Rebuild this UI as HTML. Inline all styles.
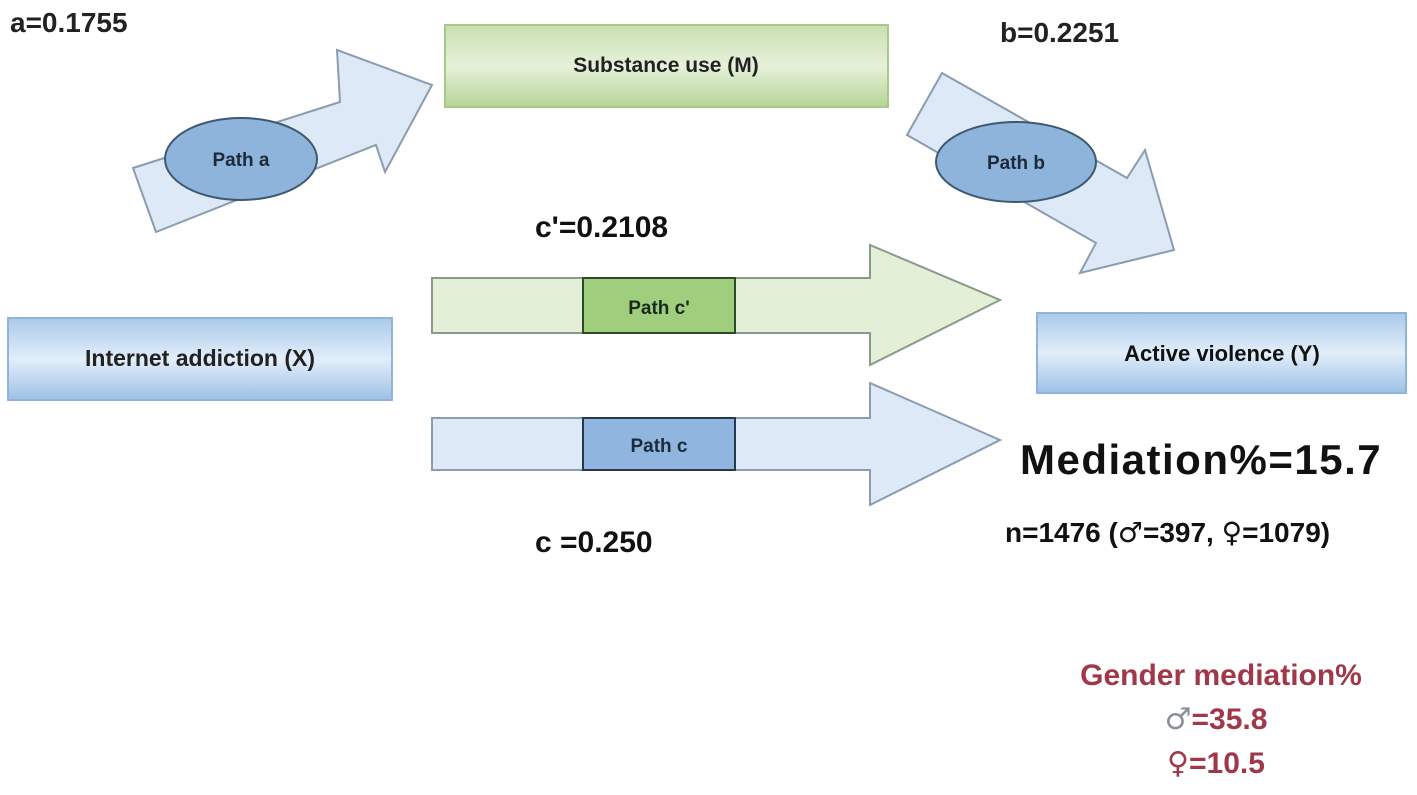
<!DOCTYPE html>
<html><head><meta charset="utf-8"><style>
html,body{margin:0;padding:0;background:#fff;}
svg{display:block}
text{font-family:"Liberation Sans","DejaVu Sans",sans-serif;}
.sym{font-family:"DejaVu Sans",sans-serif;font-weight:normal;}
</style></head><body>
<svg width="1417" height="795" viewBox="0 0 1417 795" xmlns="http://www.w3.org/2000/svg">
<defs>
<linearGradient id="gg" x1="0" y1="0" x2="0" y2="1">
<stop offset="0" stop-color="#c9e0b0"/><stop offset="0.5" stop-color="#e6f1da"/><stop offset="1" stop-color="#b5d495"/></linearGradient>
<linearGradient id="bg" x1="0" y1="0" x2="0" y2="1">
<stop offset="0" stop-color="#a9c9ea"/><stop offset="0.5" stop-color="#e2eefa"/><stop offset="1" stop-color="#9dc0e6"/></linearGradient>
</defs>
<rect x="445" y="25" width="443" height="82" fill="url(#gg)" stroke="#a6c88a" stroke-width="2"/>
<text x="666" y="72" font-size="21" font-weight="bold" text-anchor="middle" fill="#222">Substance use (M)</text>
<rect x="8" y="318" width="384" height="82" fill="url(#bg)" stroke="#8fb3d9" stroke-width="2"/>
<text x="200" y="366" font-size="23" font-weight="bold" text-anchor="middle" fill="#222">Internet addiction (X)</text>
<rect x="1037" y="313" width="369" height="80" fill="url(#bg)" stroke="#8fb3d9" stroke-width="2"/>
<text x="1222" y="361" font-size="22" font-weight="bold" text-anchor="middle" fill="#111">Active violence (Y)</text>
<!-- path a arrow -->
<polygon points="133,168 340,102 337,50 432,85 385,172 376,145 156,232" fill="#dde9f6" stroke="#8a9cad" stroke-width="2"/>
<ellipse cx="241" cy="159" rx="76" ry="41" fill="#8fb4dc" stroke="#3e5870" stroke-width="2"/>
<text x="241" y="166" font-size="19" font-weight="bold" text-anchor="middle" fill="#1c2a3a">Path a</text>
<!-- path b arrow -->
<polygon points="942,73 1127,178 1145,150 1174,250 1080,273 1096,243 907,135" fill="#dde9f6" stroke="#8a9cad" stroke-width="2"/>
<ellipse cx="1016" cy="162" rx="80" ry="40" fill="#8fb4dc" stroke="#3e5870" stroke-width="2"/>
<text x="1016" y="169" font-size="19" font-weight="bold" text-anchor="middle" fill="#1c2a3a">Path b</text>
<!-- c' arrow -->
<polygon points="432,278 870,278 870,245 1000,300 870,365 870,333 432,333" fill="#e3efd6" stroke="#8a9a8a" stroke-width="2"/>
<rect x="583" y="278" width="152" height="55" fill="#9fcf7d" stroke="#2f4a2a" stroke-width="2"/>
<text x="659" y="314" font-size="19" font-weight="bold" text-anchor="middle" fill="#1c2a1c">Path c'</text>
<!-- c arrow -->
<polygon points="432,418 870,418 870,383 1000,440 870,505 870,470 432,470" fill="#dde9f6" stroke="#8a9cad" stroke-width="2"/>
<rect x="583" y="418" width="152" height="52" fill="#90b6df" stroke="#26384a" stroke-width="2"/>
<text x="659" y="452" font-size="19" font-weight="bold" text-anchor="middle" fill="#1c2a3a">Path c</text>
<!-- labels -->
<text x="10" y="32" font-size="28" font-weight="bold" fill="#222">a=0.1755</text>
<text x="1000" y="42" font-size="28" font-weight="bold" fill="#222">b=0.2251</text>
<text x="535" y="237" font-size="30" font-weight="bold" fill="#111">c'=0.2108</text>
<text x="535" y="552" font-size="30" font-weight="bold" fill="#111">c =0.250</text>
<text x="1020" y="474" font-size="42" font-weight="bold" fill="#111" letter-spacing="1.5">Mediation%=15.7</text>
<text x="1005" y="542" font-size="28" font-weight="bold" fill="#111">n=1476 (<tspan class="sym">♂</tspan>=397, <tspan class="sym">♀</tspan>=1079)</text>
<text x="1221" y="685" font-size="30" font-weight="bold" text-anchor="middle" fill="#a0384a">Gender mediation%</text>
<text x="1216" y="729" font-size="30" font-weight="bold" text-anchor="middle" fill="#a0384a"><tspan class="sym" fill="#8a9095">♂</tspan>=35.8</text>
<text x="1216" y="773" font-size="30" font-weight="bold" text-anchor="middle" fill="#a0384a"><tspan class="sym">♀</tspan>=10.5</text>
</svg>
</body></html>
